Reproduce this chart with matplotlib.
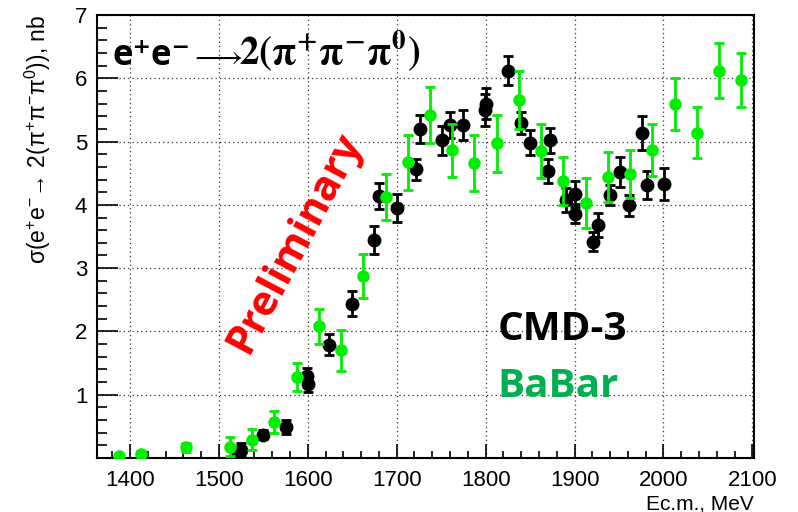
import matplotlib
matplotlib.use("Agg")
import matplotlib.pyplot as plt
from matplotlib.ticker import MultipleLocator

# CMD-3 points: energy (MeV), cross section (nb), stat. error
cmd3_e = [1520, 1525, 1550, 1576, 1599, 1600, 1624, 1650, 1675, 1680,
          1700, 1722, 1726, 1751, 1760, 1775, 1799, 1800, 1825, 1840,
          1850, 1870, 1872, 1890, 1900, 1901, 1921, 1926, 1940, 1951,
          1961, 1976, 1981, 2001]
cmd3_xs = [0.05, 0.13, 0.37, 0.49, 1.30, 1.17, 1.79, 2.44, 3.44, 4.14,
           3.95, 4.56, 5.20, 5.02, 5.26, 5.26, 5.50, 5.60, 6.12, 5.29,
           4.98, 4.53, 5.02, 4.08, 3.86, 4.17, 3.42, 3.68, 4.15, 4.52,
           3.99, 5.14, 4.31, 4.33]
cmd3_err = [0.08, 0.10, 0.07, 0.11, 0.12, 0.12, 0.17, 0.20, 0.22, 0.20,
            0.22, 0.17, 0.22, 0.23, 0.20, 0.24, 0.25, 0.25, 0.23, 0.17,
            0.20, 0.19, 0.20, 0.19, 0.15, 0.21, 0.15, 0.19, 0.16, 0.24,
            0.16, 0.27, 0.22, 0.25]

# BaBar points
babar_e = [1387.5, 1412.5, 1462.5, 1512.5, 1537.5, 1562.5, 1587.5, 1612.5,
           1637.5, 1662.5, 1687.5, 1712.5, 1737.5, 1762.5, 1787.5, 1812.5,
           1837.5, 1862.5, 1887.5, 1912.5, 1937.5, 1962.5, 1987.5, 2012.5,
           2037.5, 2062.5, 2087.5]
babar_xs = [0.03, 0.07, 0.17, 0.18, 0.29, 0.57, 1.28, 2.08,
            1.70, 2.88, 4.12, 4.67, 5.42, 4.86, 4.66, 4.97,
            5.66, 4.85, 4.37, 4.03, 4.44, 4.49, 4.86, 5.59,
            5.14, 6.12, 5.97]
babar_err = [0.03, 0.04, 0.07, 0.15, 0.17, 0.17, 0.22, 0.28,
             0.33, 0.35, 0.36, 0.44, 0.45, 0.42, 0.44, 0.45,
             0.46, 0.43, 0.38, 0.39, 0.40, 0.38, 0.41, 0.41,
             0.40, 0.43, 0.43]

plt.rcParams["font.family"] = ["Liberation Sans", "DejaVu Sans"]
plt.rcParams["mathtext.fontset"] = "custom"
plt.rcParams["mathtext.rm"] = "Liberation Sans"
plt.rcParams["mathtext.it"] = "Liberation Sans"

fig = plt.figure(figsize=(7.98, 5.12), dpi=100)
ax = fig.add_axes([0.1216, 0.1055, 0.8234, 0.8652])

ax.errorbar(cmd3_e, cmd3_xs, yerr=cmd3_err, fmt="o", color="black",
            ms=9, elinewidth=2, capsize=3.5, capthick=2, zorder=3)
ax.errorbar(babar_e, babar_xs, yerr=babar_err, fmt="o", color="#00ee00",
            ms=8, elinewidth=2, capsize=3.5, capthick=2, zorder=4)

ax.set_xlim(1363, 2102)
ax.set_ylim(0, 7)
ax.xaxis.set_major_locator(MultipleLocator(100))
ax.xaxis.set_minor_locator(MultipleLocator(20))
ax.yaxis.set_major_locator(MultipleLocator(1))
ax.yaxis.set_minor_locator(MultipleLocator(0.2))
ax.set_yticks([1, 2, 3, 4, 5, 6, 7])

ax.grid(True, which="major", color="#333333", lw=0.9, ls=(0, (1, 2.5)))
ax.set_axisbelow(True)

for s in ax.spines.values():
    s.set_linewidth(1.5)
ax.tick_params(axis="both", which="both", direction="in", width=1.2,
               labelsize=16, top=False, right=False)
ax.tick_params(axis="x", which="major", length=10, pad=9)
ax.tick_params(axis="x", which="minor", length=5)
ax.tick_params(axis="y", which="major", length=15, pad=7)
ax.tick_params(axis="y", which="minor", length=7)

ax.set_xlabel("Ec.m., MeV", loc="right", fontsize=15, labelpad=2)
ax.set_ylabel(r"σ(e$^{+}$e$^{-}$→ 2(π$^{+}$π$^{-}$π$^{0}$)), nb",
              loc="top", fontsize=16.5, labelpad=16)

# reaction label: sans "e+e-", a thin arrow, then pions in a Times-like face
ax.text(0.024, 0.887, "e⁺e⁻", transform=ax.transAxes, fontsize=25,
        fontweight="bold", family=["Open Sans", "DejaVu Sans"],
        va="baseline")
ax.text(0.141, 0.887, r"$\longrightarrow$", transform=ax.transAxes,
        fontsize=22, math_fontfamily="stix", va="baseline")
ax.text(0.216, 0.887, r"$\mathbf{2(\pi^{+}\pi^{-}\pi^{0})}$",
        transform=ax.transAxes, fontsize=28, math_fontfamily="stix",
        va="baseline")

ax.text(0.301, 0.485, "Preliminary", transform=ax.transAxes, rotation=62,
        color="red", fontsize=30, fontweight="bold",
        family=["Open Sans", "DejaVu Sans"], ha="center", va="center")

ax.text(0.61, 0.266, "CMD-3", transform=ax.transAxes, fontsize=29,
        fontweight="bold", family=["Open Sans", "DejaVu Sans"],
        color="black", va="baseline")
ax.text(0.61, 0.138, "BaBar", transform=ax.transAxes, fontsize=29,
        fontweight="bold", family=["Open Sans", "DejaVu Sans"],
        color="#00b050", va="baseline")

fig.savefig("out.png", dpi=100)
